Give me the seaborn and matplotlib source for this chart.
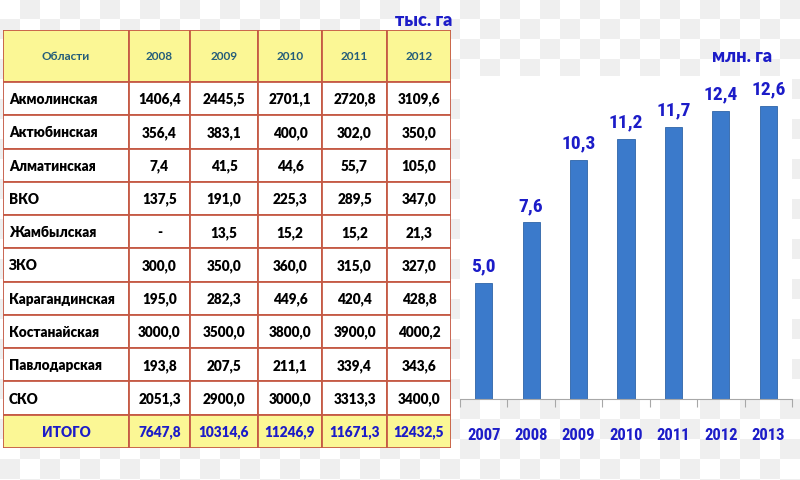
import numpy as np
import pandas as pd
import matplotlib
matplotlib.use('Agg')
import matplotlib.pyplot as plt
from matplotlib import font_manager
from matplotlib.patches import Rectangle
import seaborn as sns

# table data (тыс. га)
regions = ["Акмолинская", "Актюбинская", "Алматинская", "ВКО", "Жамбылская",
           "ЗКО", "Карагандинская", "Костанайская", "Павлодарская", "СКО"]
table_years = ["2008", "2009", "2010", "2011", "2012"]
v2008 = [1406.4, 356.4, 7.4, 137.5, np.nan, 300.0, 195.0, 3000.0, 193.8, 2051.3]
v2009 = [2445.5, 383.1, 41.5, 191.0, 13.5, 350.0, 282.3, 3500.0, 207.5, 2900.0]
v2010 = [2701.1, 400.0, 44.6, 225.3, 15.2, 360.0, 449.6, 3800.0, 211.1, 3000.0]
v2011 = [2720.8, 302.0, 55.7, 289.5, 15.2, 315.0, 420.4, 3900.0, 339.4, 3313.3]
v2012 = [3109.6, 350.0, 105.0, 347.0, 21.3, 327.0, 428.8, 4000.2, 343.6, 3400.0]
totals = [7647.8, 10314.6, 11246.9, 11671.3, 12432.5]

# bar chart data (млн. га)
bar_years = ["2007", "2008", "2009", "2010", "2011", "2012", "2013"]
bar_values = [5.0, 7.6, 10.3, 11.2, 11.7, 12.4, 12.6]

BORDER = "#c55a45"
HEADER_BG = "#fbf795"
BLUE = "#1c1cc8"

# pick a condensed family if one is installed
installed = {f.name for f in font_manager.fontManager.ttflist}
NARROW = [f for f in ["Liberation Sans Narrow", "DejaVu Sans Condensed",
                      "Roboto Condensed", "Open Sans Condensed"] if f in installed]
NARROW = NARROW + ["DejaVu Sans"]


def fmt(v):
    if pd.isna(v):
        return "-"
    return f"{v:.1f}".replace(".", ",")


sns.set_theme(style="white")
plt.rcParams["font.family"] = ["Lato", "DejaVu Sans"]

fig = plt.figure(figsize=(8, 4.81), dpi=100)

# checkered background like the source picture
sq = 20
yy, xx = np.mgrid[0:481, 0:800]
checker = np.where(((xx // sq) + (yy // sq)) % 2 == 0, 1.0, 0.94)
fig.figimage(np.dstack([checker] * 3), xo=0, yo=0, origin="upper", zorder=-10)

# ---- table ----
ax_t = fig.add_axes([3 / 800, (481 - 449) / 481, 448 / 800, (449 - 31) / 481])
ax_t.set_xlim(0, 448)
ax_t.set_ylim(418, 0)
ax_t.axis("off")

col_edges = [0, 126, 187, 255, 319, 384, 448]
head_h = 52
row_h = (418 - head_h) / 11
cols = [v2008, v2009, v2010, v2011, v2012]

# header
for c in range(6):
    x0, x1 = col_edges[c], col_edges[c + 1]
    ax_t.add_patch(Rectangle((x0, 0), x1 - x0, head_h, facecolor=HEADER_BG,
                             edgecolor=BORDER, lw=1.3))
    label = "Области" if c == 0 else table_years[c - 1]
    ax_t.text((x0 + x1) / 2, head_h / 2, label, ha="center", va="center",
              fontsize=8.5, color="#245d7a", fontweight="bold")

# body rows
for r, name in enumerate(regions):
    y0 = head_h + r * row_h
    for c in range(6):
        x0, x1 = col_edges[c], col_edges[c + 1]
        ax_t.add_patch(Rectangle((x0, y0), x1 - x0, row_h, facecolor="white",
                                 edgecolor=BORDER, lw=1.3))
    ax_t.text(6, y0 + row_h / 2, name, ha="left", va="center",
              fontsize=9.8, color="black", fontweight="heavy")
    for c, col in enumerate(cols):
        x0, x1 = col_edges[c + 1], col_edges[c + 2]
        ax_t.text((x0 + x1) / 2, y0 + row_h / 2, fmt(col[r]), ha="center",
                  va="center", fontsize=9.8, color="black", fontweight="heavy")

# total row
y0 = head_h + len(regions) * row_h
for c in range(6):
    x0, x1 = col_edges[c], col_edges[c + 1]
    ax_t.add_patch(Rectangle((x0, y0), x1 - x0, row_h, facecolor=HEADER_BG,
                             edgecolor=BORDER, lw=1.3))
ax_t.text(col_edges[1] / 2, y0 + row_h / 2, "ИТОГО", ha="center", va="center",
          fontsize=9.8, color=BLUE, fontweight="heavy")
for c, t in enumerate(totals):
    x0, x1 = col_edges[c + 1], col_edges[c + 2]
    ax_t.text((x0 + x1) / 2, y0 + row_h / 2, fmt(t), ha="center", va="center",
              fontsize=9.8, color=BLUE, fontweight="heavy")

fig.text(452 / 800, 1 - 20 / 481, "тыс. га", ha="right", va="center",
         fontsize=13, color=BLUE, fontweight="heavy")

# ---- bar chart ----
ax_b = fig.add_axes([460 / 800, (481 - 400) / 481, 332 / 800, (400 - 77) / 481])
df = pd.DataFrame({"year": bar_years, "value": bar_values})
sns.barplot(data=df, x="year", y="value", color="#3b7acb", saturation=1,
            width=0.36, ax=ax_b, edgecolor="#2f64a8", linewidth=0.6)
ax_b.set_facecolor("white")
ax_b.set_ylim(0, 13.9)
ax_b.set_xlim(-0.5, len(bar_years) - 0.5)
ax_b.set_xlabel("")
ax_b.set_ylabel("")
ax_b.set_yticks([])
for s in ["top", "left", "right"]:
    ax_b.spines[s].set_visible(False)
ax_b.spines["bottom"].set_color("#a8a8a8")
ax_b.spines["bottom"].set_linewidth(0.8)

ax_b.set_xticks(np.arange(-0.5, len(bar_years)), minor=True)
ax_b.tick_params(axis="x", which="minor", bottom=True, length=6, width=0.8,
                 color="#a8a8a8", direction="out")
ax_b.tick_params(axis="x", which="major", length=0, pad=20)
for lab in ax_b.get_xticklabels():
    lab.set_family(NARROW)
    lab.set_fontweight("bold")
    lab.set_fontsize(12)
    lab.set_color(BLUE)

for i, v in enumerate(bar_values):
    ax_b.annotate(fmt(v), (i, v), xytext=(0, 6), textcoords="offset points",
                  ha="center", va="bottom", fontsize=14, color=BLUE,
                  fontweight="bold", family=NARROW)

fig.text(742 / 800, 1 - 57 / 481, "млн. га", ha="center", va="center",
         fontsize=13, color=BLUE, fontweight="heavy")

fig.savefig("out.png", dpi=100)
